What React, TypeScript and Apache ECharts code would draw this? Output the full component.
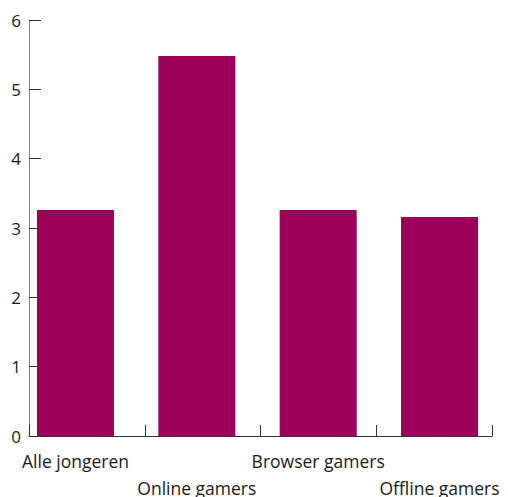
import React, { useEffect, useRef } from "react";
import * as echarts from "echarts";

const categories = ["Alle jongeren", "Online gamers", "Browser gamers", "Offline gamers"];
const values = [3.26, 5.48, 3.26, 3.16];
const yTicks = [0, 1, 2, 3, 4, 5, 6];

export default function App() {
  const ref = useRef<HTMLDivElement>(null);
  useEffect(() => {
    if (!ref.current) return;
    const chart = echarts.init(ref.current, null, { renderer: "svg" });
    const font = "'Open Sans', sans-serif";
    chart.setOption({
      animation: false,
      grid: [
        { left: 14.8, right: 7.8, top: 20, bottom: 61, outerBoundsMode: "none", containLabel: false },
        { left: 29, right: 16, top: 20, bottom: 61, outerBoundsMode: "none", containLabel: false },
      ],
      xAxis: [
        {
          type: "category",
          gridIndex: 0,
          data: categories,
          axisLine: { show: false },
          axisTick: { show: false },
          axisLabel: {
            interval: 0,
            margin: 11,
            fontSize: 17.5,
            lineHeight: 27,
            color: "#1a1a1a",
            fontFamily: font,
            formatter: (v: string, i: number) => (i % 2 ? "\n" + v : v),
          },
        },
        {
          type: "category",
          gridIndex: 1,
          data: categories,
          boundaryGap: true,
          axisLine: { show: true, lineStyle: { color: "#333", width: 1 } },
          axisTick: { show: true, inside: true, length: 11, lineStyle: { color: "#333" } },
          axisLabel: { show: false },
        },
      ],
      yAxis: [
        {
          type: "value",
          gridIndex: 0,
          min: yTicks[0],
          max: yTicks[yTicks.length - 1],
          interval: 1,
          show: false,
        },
        {
          type: "value",
          gridIndex: 1,
          min: yTicks[0],
          max: yTicks[yTicks.length - 1],
          interval: 1,
          splitLine: { show: false },
          axisLine: { show: true, lineStyle: { color: "#888", width: 1 } },
          axisTick: { show: true, inside: true, length: 12, lineStyle: { color: "#333" } },
          axisLabel: { margin: 8, fontSize: 17, color: "#1a1a1a", fontFamily: font },
        },
      ],
      series: [
        {
          type: "bar",
          xAxisIndex: 0,
          yAxisIndex: 0,
          data: values,
          barWidth: 77,
          itemStyle: { color: "#9c0058" },
        },
      ],
    });
    return () => chart.dispose();
  }, []);
  return <div ref={ref} style={{ width: 508, height: 497, position: "absolute", left: 0, top: 0 }} />;
}
